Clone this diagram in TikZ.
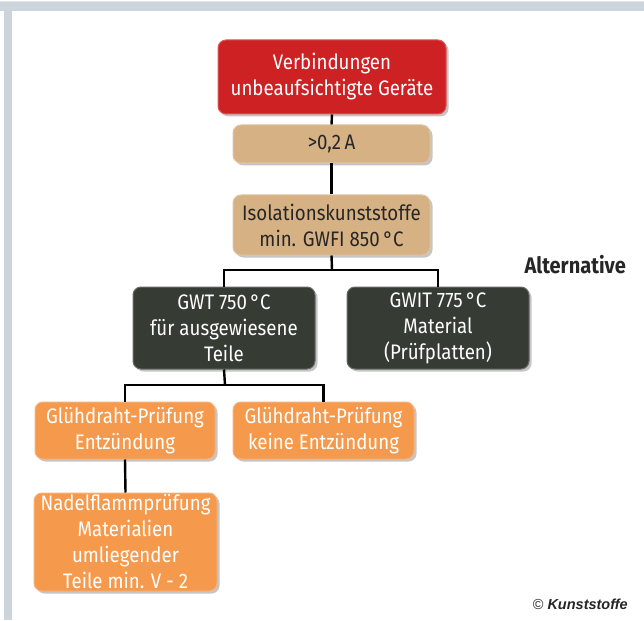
\documentclass[tikz,border=0pt]{standalone}
\usepackage{fontspec}
\setmainfont{Fira Sans}[FakeStretch=0.89]
\newfontfamily\credfont{Liberation Sans}
\usetikzlibrary{shadows}

\definecolor{framegray}{rgb}{0.800000, 0.831000, 0.863000}
\definecolor{boxred}{rgb}{0.808000, 0.129000, 0.141000}
\definecolor{boxtan}{rgb}{0.835000, 0.694000, 0.518000}
\definecolor{boxdark}{rgb}{0.212000, 0.231000, 0.204000}
\definecolor{boxorange}{rgb}{0.961000, 0.600000, 0.298000}
\definecolor{textdark}{rgb}{0.150000, 0.150000, 0.150000}

\tikzset{
  box/.style={rectangle, rounded corners=8pt, align=center, inner sep=0pt,
    line width=1pt, font=\fontsize{21}{26}\selectfont,
    drop shadow={shadow xshift=2.5pt, shadow yshift=-2.5pt, opacity=0.45}},
  redbox/.style={box, fill=boxred, draw=boxred!75!white, text=white},
  tanbox/.style={box, fill=boxtan, draw=boxtan!75!white, text=textdark},
  darkbox/.style={box, fill=boxdark, draw=boxdark!75!white, text=white},
  orangebox/.style={box, fill=boxorange, draw=boxorange!75!white, text=white},
  link/.style={line width=2.4pt, black}
}

\begin{document}
\begin{tikzpicture}[x=1pt,y=-1pt]
\useasboundingbox (0,0) rectangle (644,620);
\fill[white] (0,0) rectangle (644,620);
% frame
\fill[framegray] (0,1) rectangle (644,11);
\fill[framegray] (4,1) rectangle (12,620);
\fill[framegray!60!white] (0,1) rectangle (644,2);

% boxes
\node[redbox, minimum width=228pt, minimum height=74pt] (conn) at (332,77)
  {Verbindungen\\unbeaufsichtigte Geräte};
\node[tanbox, minimum width=197pt, minimum height=38pt] (amp) at (331.5,144)
  {>0,2\,A};
\node[tanbox, minimum width=197pt, minimum height=60pt] (iso) at (331.5,225)
  {Isolationskunststoffe\\min. GWFI 850\,°C};
\node[darkbox, minimum width=182pt, minimum height=82pt] (gwt) at (224,328)
  {GWT 750\,°C\\für ausgewiesene\\Teile};
\node[darkbox, minimum width=182pt, minimum height=82pt] (gwit) at (438,328)
  {GWIT 775\,°C\\Material\\(Prüfplatten)};
\node[orangebox, minimum width=180pt, minimum height=57pt] (ign) at (125,430.5)
  {Glühdraht-Prüfung\\Entzündung};
\node[orangebox, minimum width=181pt, minimum height=57pt] (noign) at (323.5,430.5)
  {Glühdraht-Prüfung\\keine Entzündung};
\node[orangebox, minimum width=183pt, minimum height=98pt] (needle) at (125.5,542)
  {Nadelflammprüfung\\Materialien\\umliegender\\Teile min. V - 2};

% texts
\node[anchor=east, inner sep=0pt, text=textdark, font=\fontsize{22.5}{26}\selectfont\bfseries] (alt) at (626,265) {Alternative};
\node[anchor=east, inner sep=0pt, text=textdark, font=\fontsize{14.5}{17}\selectfont\credfont] (cred) at (628,604)
  {©\ \textbf{\textit{Kunststoffe}}};

% connectors
\coordinate (busA) at (332,270);
\coordinate (busB) at (225,385);
\draw[link] (conn.south) -- (amp.north);
\draw[link] (amp.south) -- (iso.north);
\draw[link] (iso.south) -- (busA);
\draw[link] (gwt.north) |- (busA) -| (gwit.north);
\draw[link] (gwt.south) -- (busB);
\draw[link] (ign.north) |- (busB) -| (noign.north);
\draw[link] (ign.south) -- (needle.north);
\end{tikzpicture}
\end{document}
